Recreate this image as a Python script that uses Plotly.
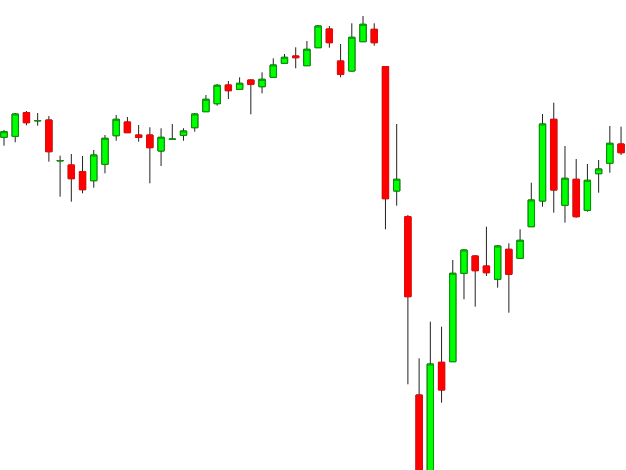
import plotly.graph_objects as go

# Bar index (time order)
bars = list(range(56))

opens = [332.7, 333.7, 357.3, 349.1, 350.0, 309.1, 305.0, 298.3, 289.3, 305.7,
         334.3, 348.0, 335.0, 335.0, 319.0, 330.5, 334.7, 342.3, 358.3, 366.3,
         385.0, 380.7, 390.0, 383.3, 392.7, 406.7, 414.0, 404.3, 422.3, 441.0,
         409.0, 399.0, 428.3, 440.7, 403.3, 279.0, 253.3, 75.0, -35.0, 107.7,
         108.3, 196.7, 214.0, 204.0, 190.7, 220.7, 211.7, 243.3, 269.0, 350.7,
         264.7, 290.7, 259.7, 296.3, 306.7, 326.0]
highs = [340.0, 357.0, 359.0, 357.0, 354.0, 314.3, 316.0, 314.0, 320.0, 335.0,
         355.0, 353.0, 345.0, 342.7, 341.7, 346.0, 341.7, 357.0, 375.0, 386.0,
         389.0, 392.7, 390.5, 397.7, 411.7, 416.0, 422.7, 429.0, 445.0, 444.0,
         426.0, 446.7, 454.0, 446.7, 404.0, 346.0, 255.0, 111.7, 148.3, 143.3,
         210.0, 220.5, 215.0, 243.3, 225.0, 226.7, 240.7, 287.3, 356.0, 367.3,
         324.0, 311.0, 306.0, 310.0, 344.0, 343.3]
lows = [324.3, 327.7, 344.7, 344.3, 308.3, 273.3, 268.3, 276.7, 282.3, 296.7,
        329.3, 337.0, 328.3, 286.7, 304.0, 330.5, 329.3, 338.3, 358.0, 364.3,
        371.0, 380.5, 355.7, 376.7, 392.5, 406.5, 401.7, 404.0, 422.0, 422.3,
        392.7, 398.5, 428.0, 424.3, 240.7, 264.3, 85.7, -50.0, -45.0, 67.3,
        108.0, 170.7, 163.3, 194.0, 182.3, 157.3, 211.5, 243.0, 263.3, 257.3,
        247.3, 252.3, 258.3, 277.3, 297.3, 315.0]
closes = [338.3, 356.0, 347.3, 349.5, 318.3, 309.5, 291.3, 280.3, 315.0, 331.7,
          350.7, 337.3, 332.7, 322.3, 332.7, 330.9, 339.0, 356.0, 370.7, 384.7,
          379.3, 386.7, 385.7, 390.7, 405.0, 412.7, 412.3, 420.7, 444.0, 427.3,
          395.7, 432.7, 445.7, 427.3, 271.3, 290.7, 173.3, -40.0, 106.0, 80.0,
          196.7, 220.0, 199.3, 197.3, 224.0, 195.7, 229.7, 270.0, 346.0, 280.0,
          291.7, 253.3, 289.7, 301.0, 326.7, 317.3]

body_top = [max(o, c) for o, c in zip(opens, closes)]
body_bot = [min(o, c) for o, c in zip(opens, closes)]

fig = go.Figure()

# Wicks (dark) drawn first
fig.add_trace(go.Candlestick(
    x=bars, open=opens, high=highs, low=lows, close=closes,
    increasing=dict(line=dict(color="#222222", width=1), fillcolor="#222222"),
    decreasing=dict(line=dict(color="#222222", width=1), fillcolor="#222222"),
    whiskerwidth=0, showlegend=False, hoverinfo="skip",
))

# Bodies on top
fig.add_trace(go.Candlestick(
    x=bars, open=opens, high=body_top, low=body_bot, close=closes,
    increasing=dict(line=dict(color="#009a00", width=1), fillcolor="#00ff00"),
    decreasing=dict(line=dict(color="#ff0000", width=1), fillcolor="#ff0000"),
    whiskerwidth=0, showlegend=False,
))

fig.update_layout(
    width=626, height=470,
    margin=dict(l=0, r=0, t=0, b=0),
    paper_bgcolor="white", plot_bgcolor="white",
    boxgap=0.2,
    xaxis=dict(range=[-0.357, 55.44], visible=False, rangeslider=dict(visible=False),
               showgrid=False, zeroline=False),
    yaxis=dict(range=[0, 470], visible=False, showgrid=False, zeroline=False),
)

fig.write_html(
    "out.html",
    config={"displayModeBar": False},
    post_script="document.body.style.margin='0';document.body.style.padding='0';"
                "document.body.style.overflow='hidden';",
)
